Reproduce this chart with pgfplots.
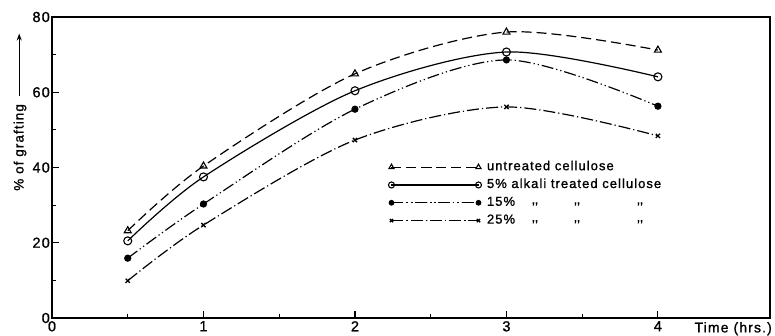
\documentclass[border=0pt]{standalone}
\usepackage{fontspec}
\setmainfont[LetterSpace=8, FakeBold=1.2]{Liberation Sans}
\usepackage{pgfplots}
\pgfplotsset{compat=1.18}
\usetikzlibrary{arrows.meta}
\newcommand{\dit}{\makebox[4pt]{\raisebox{2pt}{{,}\kern-0.5pt{,}}}}
\begin{document}
\begin{tikzpicture}
\begin{axis}[
  scale only axis, width=718pt, height=301pt,
  xmin=0, xmax=4.74, ymin=0, ymax=80,
  axis line style={line width=1.8pt},
  tick pos=left, tick align=inside,
  xtick={0,1,2,3,4}, minor xtick={0.5,1.5,2.5,3.5},
  ytick={0,20,40,60,80}, minor ytick={10,30,50,70},
  major tick length=7pt, minor tick length=4pt,
  every tick/.style={black, line width=1.1pt},
  /pgf/number format/assume math mode=true,
  ticklabel style={font=\fontsize{14.5}{16}\selectfont, inner sep=1pt},
  yticklabel style={xshift=-1pt},
  xticklabel style={yshift=-2pt},
  xlabel={Time (hrs.)},
  xlabel style={at={(axis description cs:1,0)}, anchor=north east, inner sep=0pt, yshift=-4pt, xshift=2pt, font=\fontsize{14}{16}\selectfont},
  ylabel={\% of grafting\hspace{8pt}\tikz[baseline=-0.6ex]\draw[-{Stealth[length=7pt,width=5pt]},line width=1.2pt] (0,0)--(62pt,0);},
  every axis y label/.style={at={(axis description cs:0,0.685)}, xshift=-32pt, rotate=90, anchor=center, font=\fontsize{13.5}{15}\selectfont},
  legend image code/.code={\draw[#1, every mark/.append style={scale=0.75}] plot coordinates {(0pt,0pt) (87pt,0pt)};},
  legend style={draw=none, fill=none, at={(axis cs:2.22,42)}, anchor=north west,
    inner sep=0pt, row sep=3.8pt, font=\fontsize{13}{15}\selectfont,
    nodes={inner sep=1pt, text height=9pt, text depth=3pt},
    /tikz/every odd column/.append style={column sep=4.5pt}},
  legend cell align=left,
]
\addplot[black, line width=1.2pt, dash pattern=on 10pt off 5pt, smooth, mark=triangle, mark size=4pt, mark options={solid, line width=1.1pt}]
  coordinates {(0.5,23.2) (1,40.4) (2,64.9) (3,76.0) (4,71.2)};
\addlegendentry{untreated cellulose}
\addplot[black, line width=1.2pt, solid, smooth, mark=o, mark size=4pt, mark options={solid, line width=1.1pt, fill=white}]
  coordinates {(0.5,20.5) (1,37.5) (2,60.4) (3,70.7) (4,64.1)};
\addlegendentry{5\% alkali treated cellulose}
\addplot[black, line width=1.2pt, dash pattern=on 12pt off 3pt on 1.2pt off 3pt on 1.2pt off 3pt, smooth, mark=*, mark size=3pt, mark options={solid, fill=black}]
  coordinates {(0.5,15.9) (1,30.3) (2,55.5) (3,68.6) (4,56.3)};
\addlegendentry{\makebox[46pt][l]{15\%}\dit\hspace{38pt}\dit\hspace{59pt}\dit}
\addplot[black, line width=1.2pt, dash pattern=on 12pt off 3pt on 1.2pt off 3pt, smooth, mark=x, mark size=3pt, mark options={solid, line width=1.3pt}]
  coordinates {(0.5,9.9) (1,24.7) (2,47.3) (3,56.1) (4,48.4)};
\addlegendentry{\makebox[46pt][l]{25\%}\dit\hspace{38pt}\dit\hspace{59pt}\dit}
\end{axis}
\pgfresetboundingbox
\path[use as bounding box] (-52pt,-17pt) rectangle (723pt,318pt);
\end{tikzpicture}
\end{document}
